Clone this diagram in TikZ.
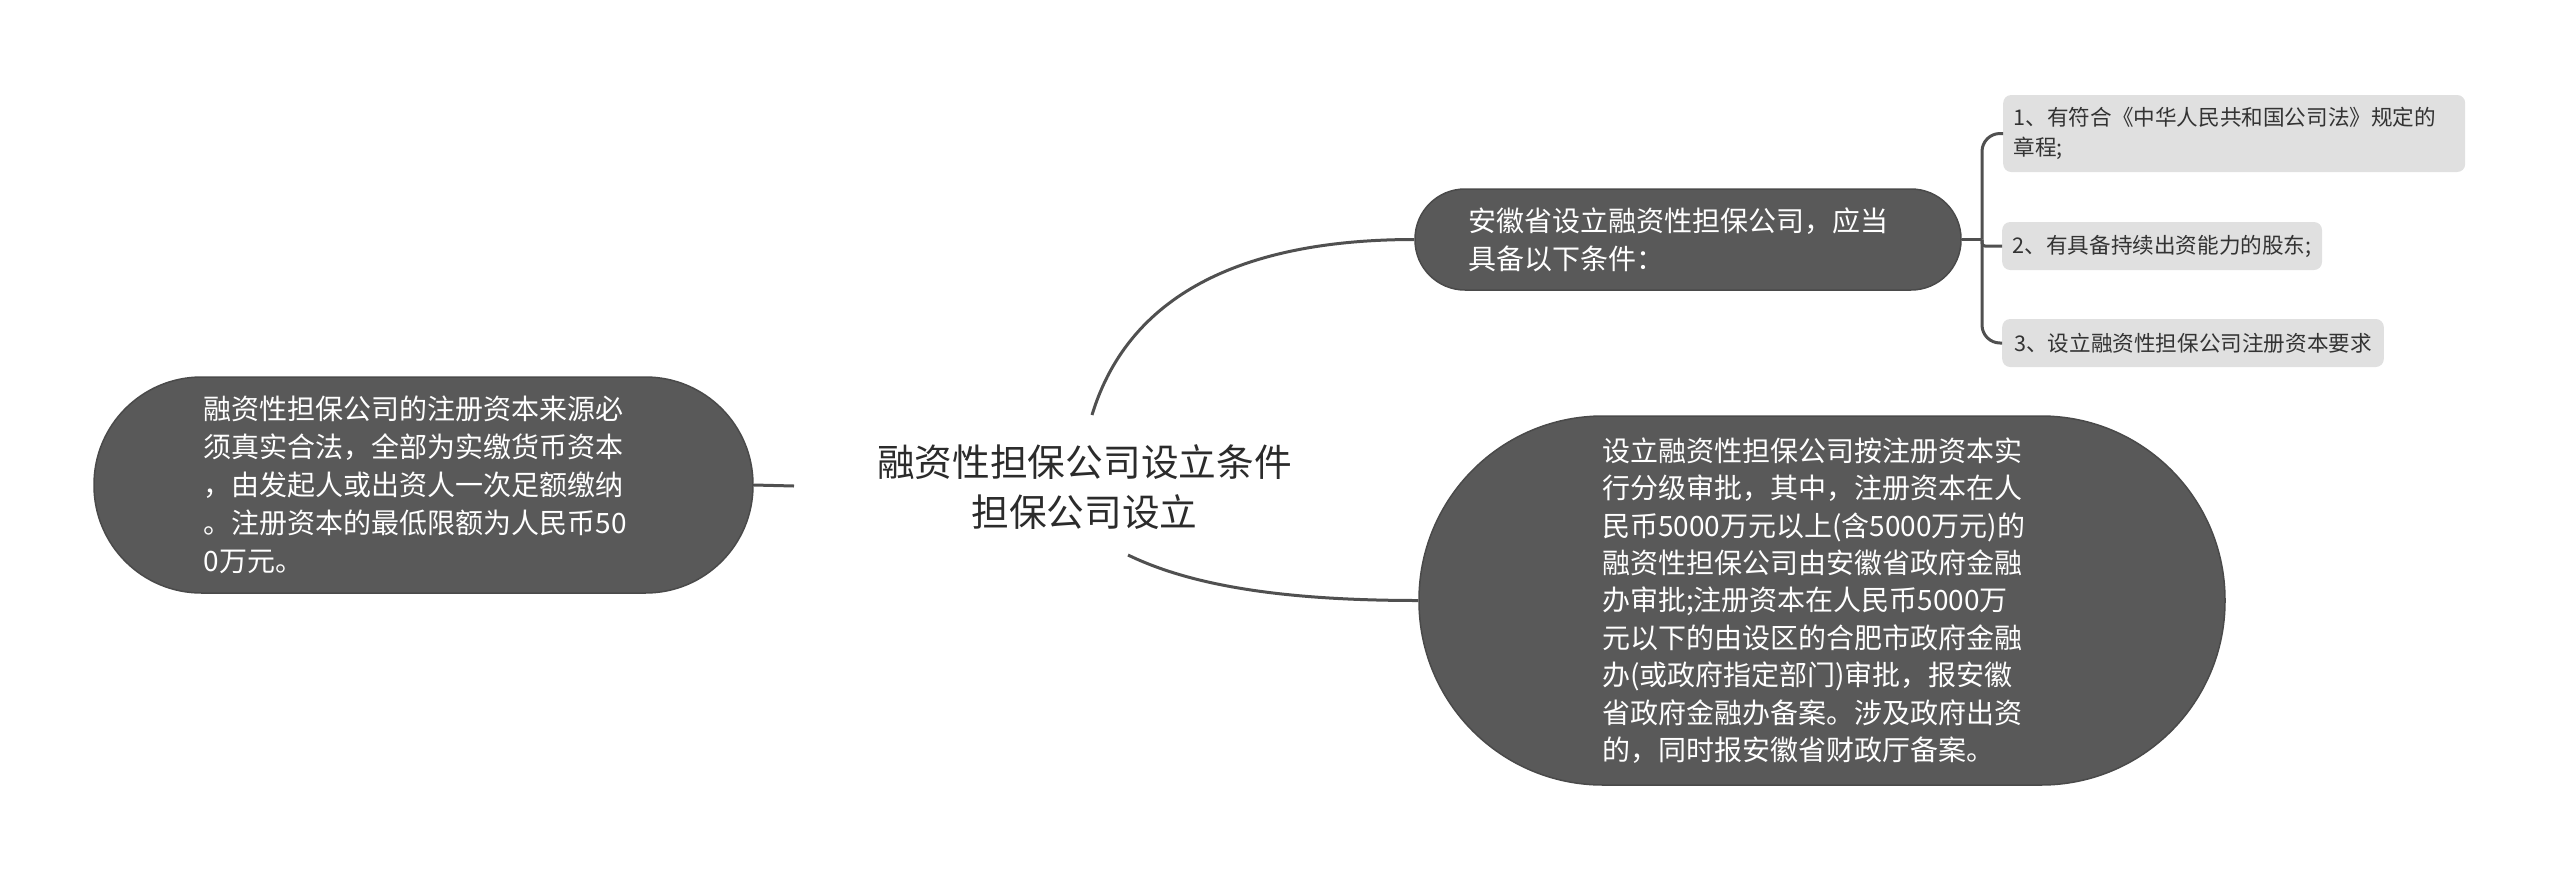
\documentclass[tikz,border=0pt]{standalone}
\usepackage{fontspec}
\newfontfamily\cjk{Noto Sans CJK SC}
\definecolor{nodefill}{HTML}{595959}
\definecolor{nodeborder}{HTML}{4A4A4A}
\definecolor{leaffill}{HTML}{E0E0E0}
\definecolor{leaftext}{HTML}{333333}
\definecolor{roottext}{HTML}{2B2B2B}
\definecolor{linkcol}{HTML}{505050}
\tikzset{
  darknode/.style={draw=nodeborder, line width=1.5pt, fill=nodefill, text=white,
    align=left, inner sep=0pt, text width=440pt, font=\cjk\fontsize{28}{38}\selectfont},
  leafnode/.style={fill=leaffill, rounded corners=8pt, text=leaftext, align=left,
    inner xsep=10.5pt, inner ysep=2pt, anchor=west,
    font=\cjk\fontsize{21.6}{30}\selectfont},
  roottextnode/.style={text=roottext, align=center, inner sep=0pt,
    font=\cjk\fontsize{37.7}{50}\selectfont},
  link/.style={draw=linkcol, line width=3pt}
}
\begin{document}
\begin{tikzpicture}[x=1pt,y=-1pt]
\useasboundingbox (0,0) rectangle (2560,879);

% root
\node[roottextnode] (root) at (1084.5,487) {融资性担保公司设立条件\\担保公司设立};
\coordinate (rootT) at (1092,415);
\coordinate (rootB) at (1128,555);
\coordinate (rootL) at (794,486);

% left node
\node[darknode, minimum width=659pt, minimum height=216pt, rounded corners=107.5pt] (left) at (423.5,485)
  {融资性担保公司的注册资本来源必\\须真实合法，全部为实缴货币资本\\，由发起人或出资人一次足额缴纳\\。注册资本的最低限额为人民币50\\0万元。};

% top-right node
\node[darknode, minimum width=546pt, minimum height=101pt, rounded corners=50pt] (tr) at (1688,239.5)
  {安徽省设立融资性担保公司，应当\\具备以下条件：};

% bottom-right node
\node[darknode, minimum width=806pt, minimum height=369pt, rounded corners=184pt,
      font=\cjk\fontsize{28}{37.4}\selectfont] (br) at (1822,600.5)
  {设立融资性担保公司按注册资本实\\行分级审批，其中，注册资本在人\\民币5000万元以上(含5000万元)的\\融资性担保公司由安徽省政府金融\\办审批;注册资本在人民币5000万\\元以下的由设区的合肥市政府金融\\办(或政府指定部门)审批，报安徽\\省政府金融办备案。涉及政府出资\\的，同时报安徽省财政厅备案。};

% leaves
\node[leafnode, text width=441pt, minimum height=77pt] (l1) at (2003,133.5)
  {1、有符合《中华人民共和国公司法》规定的\\章程;};
\node[leafnode, minimum height=48pt] (l2) at (2002,246)
  {2、有具备持续出资能力的股东;};
\node[leafnode, minimum height=48pt, inner xsep=12pt] (l3) at (2002,343)
  {3、设立融资性担保公司注册资本要求};

% connectors
\draw[link] (rootT) .. controls (1130,290) and (1250,239.5) .. (tr.west);
\draw[link] (rootB) .. controls (1190,585) and (1280,600.5) .. (br.west);
\draw[link] (left.east) -- (rootL);

\coordinate (fork) at (1982,239.5);
\draw[link] (tr.east) -- (fork);
\draw[link, rounded corners=18pt] (fork) -- (fork |- l1.west) -- (l1.west);
\draw[link, rounded corners=3pt] (fork) -- (fork |- l2.west) -- (l2.west);
\draw[link, rounded corners=18pt] (fork) -- (fork |- l3.west) -- (l3.west);
\end{tikzpicture}
\end{document}
